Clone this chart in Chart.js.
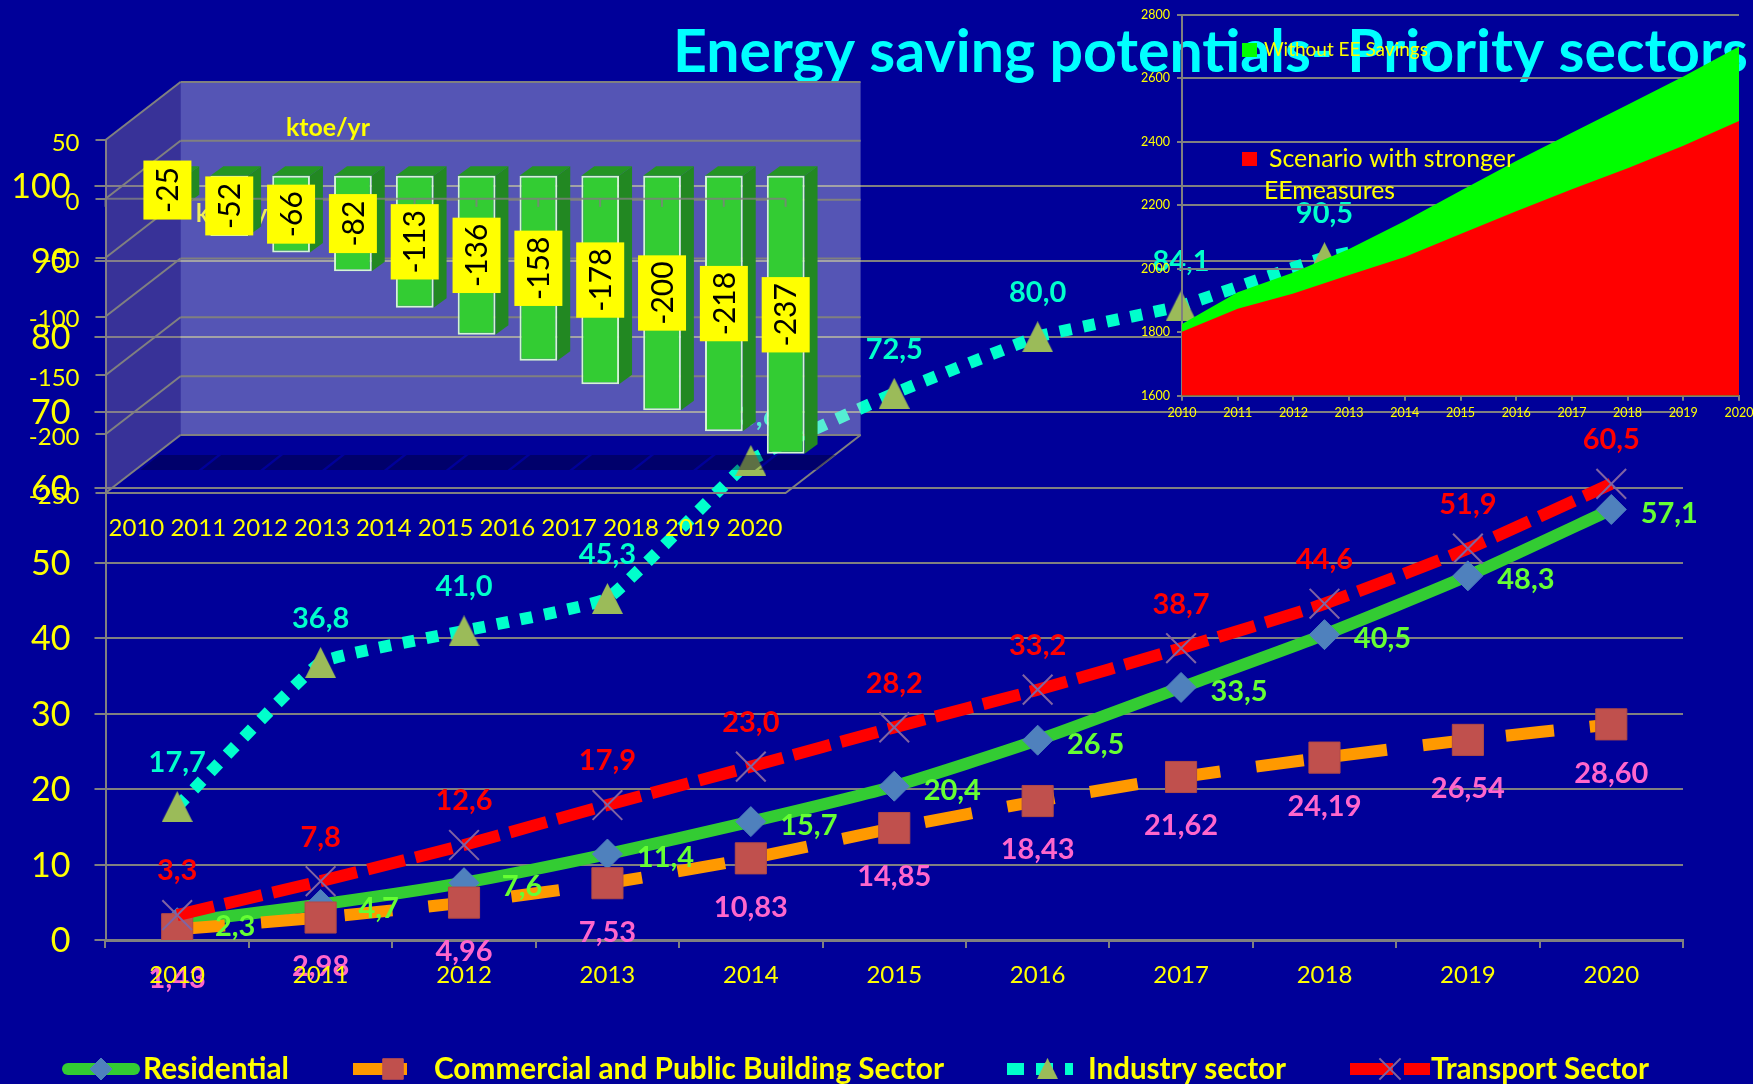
<!DOCTYPE html>
<html>
<head>
<meta charset="utf-8">
<title>Energy saving potentials</title>
<script src="https://cdn.jsdelivr.net/npm/chart.js@4"></script>
<style>
  html, body { margin: 0; padding: 0; background: #000099; overflow: hidden; }
  canvas { position: absolute; left: 0; top: 0; }
</style>
</head>
<body>
<canvas id="mainChart" width="1753" height="1084"></canvas>
<canvas id="barChart" width="1753" height="1084"></canvas>
<canvas id="areaChart" width="1753" height="1084"></canvas>
<script>
const years = ['2010', '2011', '2012', '2013', '2014', '2015', '2016', '2017', '2018', '2019', '2020'];

// main line chart
const residential = [2.3, 4.7, 7.6, 11.4, 15.7, 20.4, 26.5, 33.5, 40.5, 48.3, 57.1];
const commercial = [1.43, 2.98, 4.96, 7.53, 10.83, 14.85, 18.43, 21.62, 24.19, 26.54, 28.60];
// 2014, 2019 and 2020 sit behind the two inset charts, so they are estimates
const industry = [17.7, 36.8, 41.0, 45.3, 63.6, 72.5, 80.0, 84.1, 90.5, 94, 98];
const transport = [3.3, 7.8, 12.6, 17.9, 23.0, 28.2, 33.2, 38.7, 44.6, 51.9, 60.5];
const hiddenIndustryLabels = ['2019', '2020'];

// 3d bar chart
const savings = [-25, -52, -66, -82, -113, -136, -158, -178, -200, -218, -237];

// top right area chart
const withoutSavings = [1826, 1926, 1988, 2062, 2150, 2245, 2339, 2428, 2516, 2605, 2699];
const strongerMeasures = [1801, 1874, 1922, 1980, 2037, 2109, 2181, 2250, 2316, 2387, 2465];

const FONT = 'Lato';
const YELLOW = '#ffff00';
const GRAY = '#808080';

Chart.defaults.font.family = FONT;
Chart.defaults.animation = false;
Chart.defaults.responsive = false;
Chart.defaults.devicePixelRatio = 1;
Chart.defaults.plugins.legend.display = false;
Chart.defaults.plugins.tooltip.enabled = false;

function putText(ctx, text, x, y, font, color, maxWidth, align) {
  ctx.save();
  ctx.font = font;
  ctx.fillStyle = color;
  ctx.textAlign = align || 'left';
  ctx.textBaseline = 'middle';
  if (maxWidth) {
    ctx.fillText(text, x, y, maxWidth);
  } else {
    ctx.fillText(text, x, y);
  }
  ctx.restore();
}

function makeTriangle(size) {
  const c = document.createElement('canvas');
  c.width = size;
  c.height = size;
  const t = c.getContext('2d');
  t.fillStyle = '#9bbb59';
  t.beginPath();
  t.moveTo(size / 2, 0);
  t.lineTo(size, size);
  t.lineTo(0, size);
  t.closePath();
  t.fill();
  return c;
}
const triangle = makeTriangle(31);

function legendBar(ctx, x0, x1, y, color, dash, cap) {
  ctx.save();
  ctx.strokeStyle = color;
  ctx.lineWidth = 12;
  ctx.lineCap = cap || 'butt';
  ctx.setLineDash(dash || []);
  ctx.beginPath();
  ctx.moveTo(x0, y);
  ctx.lineTo(x1, y);
  ctx.stroke();
  ctx.restore();
}

function legendPoint(ctx, style, radius, x, y, fill, stroke, width) {
  ctx.save();
  ctx.fillStyle = fill;
  ctx.strokeStyle = stroke;
  ctx.lineWidth = width;
  Chart.helpers.drawPoint(ctx, { pointStyle: style, radius: radius, rotation: 0, borderWidth: width }, x, y);
  ctx.restore();
}

// data labels for the line chart, no datalabels plugin here
const lineLabels = {
  id: 'lineLabels',
  afterDatasetsDraw(chart) {
    const ctx = chart.ctx;
    chart.data.datasets.forEach((ds, i) => {
      chart.getDatasetMeta(i).data.forEach((pt, j) => {
        if (ds.hideLabels && ds.hideLabels.includes(years[j])) return;
        const text = ds.data[j].toFixed(ds.labelDecimals).replace('.', ',');
        putText(ctx, text, pt.x + ds.labelDx, pt.y + ds.labelDy, 'bold 29px ' + FONT, ds.labelColor, null, 'center');
      });
    });
  }
};

const mainExtras = {
  id: 'mainExtras',
  afterDraw(chart) {
    const ctx = chart.ctx;
    const y = 1069;
    const legendFont = 'bold 30px ' + FONT;

    putText(ctx, 'Energy saving potentials- Priority sectors', 673, 53, 'bold 59px ' + FONT, '#00ffff', 1078);
    putText(ctx, 'ktoe/yr', 196, 214, 'bold 25px ' + FONT, YELLOW, 80);

    legendBar(ctx, 68, 134, y, '#33cc33', null, 'round');
    legendPoint(ctx, 'rectRot', 11, 101, y, '#4f81bd', '#4f81bd', 1);
    putText(ctx, 'Residential', 143, y, legendFont, YELLOW, 146);

    legendBar(ctx, 353, 407, y, '#ff9900');
    legendPoint(ctx, 'rect', 14.5, 393, y, '#c0504d', '#c0504d', 1);
    putText(ctx, 'Commercial and Public Building Sector', 434, y, legendFont, YELLOW, 510);

    legendBar(ctx, 1007, 1073, y, '#00ffcc', [17, 12]);
    ctx.drawImage(triangle, 1037, y - 11, 21, 21);
    putText(ctx, 'Industry sector', 1088, y, legendFont, YELLOW, 198);

    legendBar(ctx, 1350, 1430, y, '#ff0000', [43, 11]);
    legendPoint(ctx, 'crossRot', 15, 1390, y, '#8064a2', '#8064a2', 2);
    putText(ctx, 'Transport Sector', 1431, y, legendFont, YELLOW, 218);
  }
};

new Chart(document.getElementById('mainChart'), {
  type: 'line',
  data: {
    labels: years,
    datasets: [
      {
        label: 'Residential', data: residential, order: 4,
        borderColor: '#33cc33', borderWidth: 12, tension: 0.2,
        pointStyle: 'rectRot', pointRadius: 15,
        pointBackgroundColor: '#4f81bd', pointBorderColor: '#4f81bd', pointBorderWidth: 1,
        labelColor: '#66ff33', labelDx: 58, labelDy: 4, labelDecimals: 1
      },
      {
        label: 'Commercial and Public Building Sector', data: commercial, order: 3,
        borderColor: '#ff9900', borderWidth: 12, borderDash: [48, 36], tension: 0.2,
        pointStyle: 'rect', pointRadius: 22,
        pointBackgroundColor: '#c0504d', pointBorderColor: '#b04a48', pointBorderWidth: 1,
        labelColor: '#ff66cc', labelDx: 0, labelDy: 49, labelDecimals: 2
      },
      {
        label: 'Industry sector', data: industry, order: 2,
        borderColor: '#00ffcc', borderWidth: 12, borderDash: [12, 12], tension: 0.1,
        pointStyle: triangle, pointRadius: 15,
        labelColor: '#00ffcc', labelDx: 0, labelDy: -44, labelDecimals: 1,
        hideLabels: hiddenIndustryLabels
      },
      {
        label: 'Transport Sector', data: transport, order: 1,
        borderColor: '#ff0000', borderWidth: 12, borderDash: [38, 11], tension: 0.2,
        pointStyle: 'crossRot', pointRadius: 21,
        pointBorderColor: '#8064a2', pointBorderWidth: 2, pointBackgroundColor: '#8064a2',
        labelColor: '#ff0000', labelDx: 0, labelDy: -44, labelDecimals: 1
      }
    ]
  },
  options: {
    layout: { padding: { top: 186, right: 70, left: 0, bottom: 0 } },
    scales: {
      x: {
        offset: true,
        afterFit(scale) { scale.height = 144; },
        grid: { offset: true, drawOnChartArea: false, color: GRAY, tickLength: 8, lineWidth: 2 },
        border: { color: GRAY, width: 3 },
        ticks: { color: YELLOW, font: { size: 24 }, padding: 13, maxRotation: 0, autoSkip: false, z: 1 }
      },
      y: {
        min: 0,
        max: 100,
        afterFit(scale) { scale.width = 105.5; },
        grid: { color: GRAY, lineWidth: 2, tickLength: 11 },
        border: { color: GRAY, width: 2 },
        ticks: { color: YELLOW, font: { size: 34 }, stepSize: 10, padding: 24, labelOffset: 1 }
      }
    }
  },
  plugins: [lineLabels, mainExtras]
});

// fake 3d for the savings chart, the bars themselves still come from the bar controller
const DEPTH_X = 75;
const DEPTH_Y = 58;
const BAR_SHIFT_X = 31;
const BAR_SHIFT_Y = 24;
const BAR_DEPTH_X = 13;
const BAR_DEPTH_Y = 9.5;

function poly(ctx, pts, fill) {
  ctx.fillStyle = fill;
  ctx.beginPath();
  pts.forEach((p, i) => (i ? ctx.lineTo(p[0], p[1]) : ctx.moveTo(p[0], p[1])));
  ctx.closePath();
  ctx.fill();
}

function line(ctx, x0, y0, x1, y1) {
  ctx.beginPath();
  ctx.moveTo(x0, y0);
  ctx.lineTo(x1, y1);
  ctx.stroke();
}

const bar3d = {
  id: 'bar3d',
  beforeDatasetsDraw(chart) {
    const ctx = chart.ctx;
    const { left, right, top, bottom } = chart.chartArea;
    const yScale = chart.scales.y;

    // walls
    poly(ctx, [[left + DEPTH_X, top - DEPTH_Y], [right + DEPTH_X, top - DEPTH_Y],
      [right + DEPTH_X, bottom - DEPTH_Y], [left + DEPTH_X, bottom - DEPTH_Y]], 'rgba(212,212,222,0.4)');
    poly(ctx, [[left, top], [left + DEPTH_X, top - DEPTH_Y],
      [left + DEPTH_X, bottom - DEPTH_Y], [left, bottom]], 'rgba(140,125,150,0.4)');

    // wall grid lines
    ctx.save();
    ctx.strokeStyle = GRAY;
    ctx.lineWidth = 2;
    yScale.ticks.forEach(t => {
      const y = yScale.getPixelForValue(t.value);
      line(ctx, left, y, left + DEPTH_X, y - DEPTH_Y);
      line(ctx, left + DEPTH_X, y - DEPTH_Y, right + DEPTH_X, y - DEPTH_Y);
    });
    line(ctx, right, bottom, right + DEPTH_X, bottom - DEPTH_Y);
    ctx.restore();

    // shadows on the floor and the bar sides
    const bars = chart.getDatasetMeta(0).data;
    const floorY = bottom - BAR_SHIFT_Y + 1;
    bars.forEach(el => {
      const cx = el.x + BAR_SHIFT_X;
      poly(ctx, [[cx - 27, floorY], [cx + 31, floorY], [cx + 50, floorY - 15], [cx - 8, floorY - 15]], 'rgba(0,0,38,0.4)');
    });

    ctx.save();
    ctx.translate(BAR_SHIFT_X, -BAR_SHIFT_Y);
    bars.forEach(el => {
      const x1 = el.x + el.width / 2;
      const x0 = el.x - el.width / 2;
      poly(ctx, [[x1, el.base], [x1 + BAR_DEPTH_X, el.base - BAR_DEPTH_Y],
        [x1 + BAR_DEPTH_X, el.y - BAR_DEPTH_Y], [x1, el.y]], '#228822');
      poly(ctx, [[x0, el.base], [x1, el.base], [x1 + BAR_DEPTH_X, el.base - BAR_DEPTH_Y],
        [x0 + BAR_DEPTH_X, el.base - BAR_DEPTH_Y]], '#249424');
    });
    // translate stays on for the bars, afterDatasetsDraw undoes it
  },
  afterDatasetsDraw(chart) {
    const ctx = chart.ctx;
    ctx.restore();
    const { left, right } = chart.chartArea;
    const zero = chart.scales.y.getPixelForValue(0);
    const bars = chart.getDatasetMeta(0).data;

    // category axis crosses at zero
    ctx.save();
    ctx.strokeStyle = 'rgba(128,128,128,0.8)';
    ctx.lineWidth = 2;
    line(ctx, left, zero, right, zero);
    const band = (right - left) / years.length;
    for (let i = 0; i <= years.length; i++) {
      line(ctx, left + i * band, zero, left + i * band, zero + 8);
    }
    ctx.restore();

    // yellow value boxes
    ctx.save();
    ctx.font = '30px ' + FONT;
    bars.forEach((el, i) => {
      const text = String(savings[i]);
      const h = Math.max(ctx.measureText(text).width + 12, 59);
      const cx = el.x + BAR_SHIFT_X;
      const cy = (el.y + el.base) / 2 - BAR_SHIFT_Y;
      ctx.fillStyle = YELLOW;
      ctx.fillRect(cx - 24, cy - h / 2, 48, h);
      ctx.save();
      ctx.translate(cx, cy);
      ctx.rotate(-Math.PI / 2);
      ctx.fillStyle = '#000000';
      ctx.textAlign = 'center';
      ctx.textBaseline = 'middle';
      ctx.fillText(text, 0, 1);
      ctx.restore();
    });
    ctx.restore();
    putText(ctx, 'ktoe/yr', 286, 128, 'bold 25px ' + FONT, YELLOW, 84);
  }
};

new Chart(document.getElementById('barChart'), {
  type: 'bar',
  data: {
    labels: years,
    datasets: [{
      label: 'ktoe/yr', data: savings, clip: false,
      backgroundColor: '#33cc33', borderColor: '#d4f4d4', borderWidth: 2, borderSkipped: false,
      barPercentage: 0.61, categoryPercentage: 1
    }]
  },
  options: {
    layout: { padding: { top: 140, right: 967.4, left: 0, bottom: 0 } },
    scales: {
      x: {
        afterFit(scale) { scale.height = 591; },
        grid: { drawOnChartArea: false, drawTicks: false },
        border: { color: GRAY, width: 2 },
        ticks: { color: YELLOW, font: { size: 24 }, padding: 21, maxRotation: 0, autoSkip: false }
      },
      y: {
        min: -250,
        max: 50,
        afterFit(scale) { scale.width = 105.5; },
        grid: { drawOnChartArea: false, color: GRAY, lineWidth: 2, tickLength: 10 },
        border: { color: GRAY, width: 2 },
        ticks: { color: YELLOW, font: { size: 24 }, stepSize: 50, padding: 16, labelOffset: 3 }
      }
    }
  },
  plugins: [bar3d]
});

const areaLegend = {
  id: 'areaLegend',
  afterDraw(chart) {
    const ctx = chart.ctx;
    ctx.fillStyle = '#00ff00';
    ctx.fillRect(1242, 43, 15, 14);
    putText(ctx, 'Without EE Savings', 1264, 50, '19px ' + FONT, YELLOW, 165);
    ctx.fillStyle = '#ff0000';
    ctx.fillRect(1242, 152, 15, 14);
    putText(ctx, 'Scenario with stronger', 1269, 159, '25px ' + FONT, YELLOW, 246);
    putText(ctx, 'EEmeasures', 1264, 191, '25px ' + FONT, YELLOW, 131);
  }
};

new Chart(document.getElementById('areaChart'), {
  type: 'line',
  data: {
    labels: years,
    datasets: [
      {
        label: 'Without EE Savings', data: withoutSavings, order: 2,
        fill: 'start', backgroundColor: '#00ff00', borderWidth: 0, pointRadius: 0
      },
      {
        label: 'Scenario with stronger EEmeasures', data: strongerMeasures, order: 1,
        fill: 'start', backgroundColor: '#ff0000', borderWidth: 0, pointRadius: 0
      }
    ]
  },
  options: {
    layout: { padding: { top: 12.7, right: 0, left: 0, bottom: 0 } },
    scales: {
      x: {
        afterFit(scale) {
          scale.height = 688.3;
          scale.paddingRight = 14;
        },
        grid: { drawOnChartArea: false, color: GRAY, lineWidth: 2, tickLength: 5 },
        border: { color: GRAY, width: 2 },
        ticks: { color: YELLOW, font: { size: 12.5 }, padding: 5, maxRotation: 0, autoSkip: false }
      },
      y: {
        min: 1600,
        max: 2800,
        afterFit(scale) { scale.width = 1182; },
        grid: { color: GRAY, lineWidth: 2, tickLength: 5 },
        border: { color: GRAY, width: 2 },
        ticks: {
          color: YELLOW,
          font: { size: 12.5 },
          stepSize: 200,
          padding: 7,
          callback(value) { return String(value); }
        }
      }
    }
  },
  plugins: [areaLegend]
});
</script>
</body>
</html>
